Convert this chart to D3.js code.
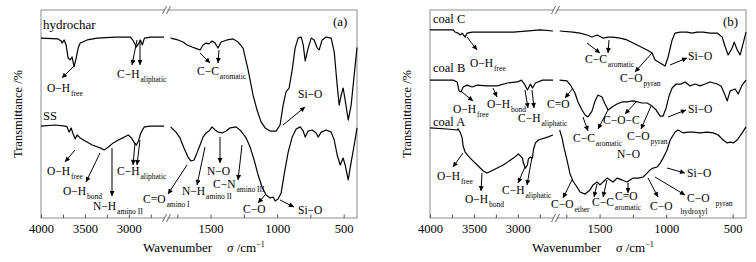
<!DOCTYPE html>
<html>
<head>
<meta charset="utf-8">
<script src="https://cdn.jsdelivr.net/npm/d3@7"></script>
<style>
body{margin:0;background:#fff;}
.spectrum{fill:none;stroke:#000;stroke-width:1.2;stroke-linejoin:round;}
.frame{fill:none;stroke:#8c8c8c;stroke-width:1;}
.arrow{stroke:#000;stroke-width:1;}
</style>
</head>
<body>
<script>
(function(){

	//spectra as [wavenumber, transmittance] pairs (arbitrary offset units)
	var hydrochar = [[4000,86.5],[3806,86.1],[3771,85.1],[3760,84.1],[3737,85.6],[3714,83.2],[3691,76.9],[3669,76.0],[3646,77.4],[3623,72.6],[3600,76.9],[3577,81.7],[3554,84.1],[3474,85.6],[3360,86.5],[3154,87.0],[2983,87.0],[2948,85.1],[2914,82.2],[2891,83.7],[2868,85.6],[2846,83.2],[2823,86.5],[2754,87.0],[2600,87.0],
		[1800,86.5],[1745,85.6],[1707,84.6],[1677,83.2],[1639,82.2],[1602,81.3],[1579,80.8],[1557,83.2],[1534,84.1],[1512,83.7],[1489,85.1],[1466,84.1],[1444,81.7],[1421,84.6],[1376,85.6],[1331,86.1],[1293,84.6],[1256,81.7],[1218,71.2],[1181,59.1],[1151,51.9],[1121,46.2],[1090,43.3],[1053,41.8],[1008,41.8],[978,44.7],[955,54.3],[933,60.6],[910,62.5],[887,71.2],[865,81.7],[842,86.5],[819,87.0],[804,83.2],[789,75.5],[767,81.7],[744,86.5],[722,85.6],[699,81.7],[684,80.8],[662,85.6],[632,87.0],[594,86.5],[571,79.8],[549,63.9],[534,54.3],[519,59.1],[504,62.5],[489,56.7],[466,47.1],[444,54.3],[421,68.8],[400,82]];

	var sludge = [[4000,44.2],[3840,44.7],[3726,44.2],[3703,43.8],[3680,41.3],[3657,43.3],[3634,40.4],[3611,38.0],[3589,39.9],[3554,38.5],[3497,37.0],[3417,35.1],[3326,33.7],[3280,32.7],[3234,34.1],[3177,36.1],[3120,37.5],[3051,38.9],[3006,39.9],[2971,38.5],[2937,36.1],[2914,35.1],[2891,37.0],[2868,40.4],[2846,42.3],[2823,43.8],[2754,44.2],[2600,44.2],
		[1800,43.8],[1760,41.3],[1730,38.5],[1700,33.7],[1670,29.3],[1647,27.4],[1624,27.9],[1602,31.3],[1579,35.1],[1557,38.9],[1534,40.9],[1512,41.8],[1489,43.8],[1466,42.3],[1444,41.3],[1414,40.9],[1384,41.8],[1354,43.3],[1309,43.8],[1271,41.8],[1233,38.5],[1203,34.1],[1173,27.9],[1143,20.7],[1113,14.9],[1083,11.1],[1053,9.6],[1030,10.1],[1015,8.2],[993,9.1],[970,12.0],[948,20.7],[917,31.7],[887,38.9],[857,42.8],[827,43.8],[804,41.8],[789,38.9],[767,41.8],[737,42.3],[707,40.9],[692,38.9],[669,41.3],[632,42.3],[594,41.3],[571,37.5],[549,30.3],[526,25.5],[504,28.8],[489,25.5],[466,18.3],[444,26.9],[421,35.1],[400,43.3]];

	var coalC = [[4000,90.4],[3737,90.4],[3714,89.4],[3680,88.9],[3657,88.0],[3634,88.9],[3600,87.0],[3577,88.9],[3520,89.4],[3429,89.4],[3051,89.4],[2743,90.4],[2600,89.9],
		[1800,89.9],[1700,89.4],[1647,88.9],[1594,88.0],[1557,87.0],[1519,88.0],[1474,86.5],[1436,87.0],[1399,87.0],[1346,86.5],[1294,85.6],[1218,83.2],[1143,80.8],[1106,79.3],[1083,76.0],[1045,74.5],[1008,73.1],[985,77.4],[955,85.6],[933,88.9],[895,89.4],[843,89.4],[805,88.9],[767,89.4],[722,89.4],[669,88.9],[617,88.9],[579,87.0],[556,82.2],[534,78.4],[504,81.7],[489,84.6],[466,80.8],[444,78.4],[421,84.1],[400,89.4]];

	var coalB = [[4000,66.3],[3737,66.3],[3691,65.4],[3669,61.1],[3646,60.6],[3623,63.0],[3577,63.9],[3520,63.0],[3463,63.9],[3349,63.5],[3234,63.5],[3120,64.9],[3006,65.4],[2960,66.3],[2926,64.4],[2891,61.5],[2857,64.4],[2834,62.5],[2800,64.9],[2720,66.3],[2600,66.3],
		[1800,66.3],[1745,65.9],[1715,63.5],[1685,60.1],[1662,55.8],[1632,51.9],[1609,49.5],[1587,48.6],[1557,51.4],[1534,56.3],[1512,59.1],[1482,58.2],[1459,54.8],[1436,51.9],[1406,53.4],[1369,54.8],[1331,55.8],[1294,55.8],[1248,56.3],[1181,55.3],[1143,55.3],[1106,53.8],[1075,51.9],[1045,49.0],[1023,49.0],[1000,52.9],[978,58.7],[955,62.5],[925,64.4],[887,64.4],[857,65.4],[820,63.5],[782,64.4],[745,63.5],[707,64.4],[669,65.4],[617,64.4],[587,63.5],[564,60.1],[541,56.3],[519,61.1],[481,62.0],[459,59.6],[429,63.9],[400,66.3]];

	var coalA = [[4000,43.3],[3806,42.8],[3691,42.3],[3680,42.8],[3657,41.3],[3634,38.5],[3623,34.6],[3600,31.7],[3543,28.8],[3463,25.5],[3394,22.6],[3349,21.6],[3280,23.1],[3166,25.5],[3051,28.8],[2994,30.8],[2948,28.8],[2937,26.4],[2914,24.0],[2891,25.5],[2880,28.4],[2857,29.3],[2834,28.8],[2823,32.7],[2800,36.1],[2766,37.5],[2663,38.9],[2600,39.9],
		[1800,42.3],[1782,38.5],[1767,33.7],[1745,27.9],[1722,21.2],[1700,17.8],[1670,14.9],[1647,12.5],[1609,11.5],[1572,13.5],[1549,15.9],[1519,17.3],[1497,15.9],[1474,17.3],[1444,19.2],[1421,18.3],[1399,17.3],[1369,19.2],[1331,18.3],[1294,17.3],[1271,18.3],[1248,19.2],[1211,19.2],[1173,19.7],[1143,21.6],[1121,23.1],[1098,24.0],[1068,24.5],[1045,26.4],[1023,28.8],[993,32.7],[970,37.5],[933,41.3],[910,42.3],[872,40.9],[835,41.3],[797,41.3],[745,40.9],[692,41.3],[647,40.9],[609,39.9],[572,37.5],[541,36.1],[519,36.5],[496,36.1],[466,37.5],[429,40.9],[400,43.8]];

	//broken wavenumber axis
	var highRange = [4000, 2600],
		lowRange = [1850, 400];
	var ticksHigh = [4000, 3750, 3500, 3250, 3000, 2750],
		ticksLow = [1750, 1500, 1250, 1000, 750, 500],
		tickLabels = [4000, 3500, 3000, 1500, 1000, 500];

	//labels and arrows, svg pixel positions
	var labelsA = [
		{t:"hydrochar", x:43, y:29, size:13},
		{t:"SS", x:43, y:120, size:12.5},
		{t:"(a)", x:333, y:26, size:13},
		{t:"O−H", s:"free", x:47, y:92},
		{t:"C−H", s:"aliphatic", x:117, y:78},
		{t:"C−C", s:"aromatic", x:197, y:75},
		{t:"Si−O", x:298, y:98},
		{t:"O−H", s:"free", x:47, y:175},
		{t:"O−H", s:"bond", x:63, y:195},
		{t:"N−H", s:"amino II", x:93, y:210},
		{t:"C−H", s:"aliphatic", x:117, y:175},
		{t:"C=O", s:"amino I", x:143, y:203},
		{t:"N−H", s:"amino II", x:182, y:195},
		{t:"N−O", x:207, y:175},
		{t:"C−N", s:"amino III", x:213, y:188},
		{t:"C−O", x:243, y:213},
		{t:"Si−O", x:298, y:214}
	];
	var arrowsA = [[75,65,62,78],[137,40,132,65],[140,40,140,65],[200,53,210,63],[219,50,218,63],[283,125,305,107],
		[75,150,65,162],[100,153,86,182],[112,148,112,196],[135,143,133,165],[140,140,137,165],[187,165,168,194],
		[205,147,197,185],[220,137,220,163],[242,145,238,180],[265,195,258,203],[280,200,294,207]];

	var labelsB = [
		{t:"coal C", x:433, y:23, size:12.5},
		{t:"coal B", x:433, y:72, size:12.5},
		{t:"coal A", x:433, y:126, size:12.5},
		{t:"(b)", x:723, y:26, size:13},
		{t:"O−H", s:"free", x:470, y:67},
		{t:"C−C", s:"aromatic", x:585, y:63},
		{t:"C−O", s:"pyran", x:620, y:82},
		{t:"Si−O", x:688, y:60},
		{t:"O−H", s:"free", x:453, y:113},
		{t:"O−H", s:"bond", x:487, y:108},
		{t:"C−H", s:"aliphatic", x:518, y:122},
		{t:"C=O", x:547, y:108},
		{t:"C−C", s:"aromatic", x:573, y:142},
		{t:"C−O−C", x:603, y:124},
		{t:"C−O", s:"pyran", x:627, y:140},
		{t:"N−O", x:617, y:158},
		{t:"Si−O", x:688, y:113},
		{t:"O−H", s:"free", x:437, y:180},
		{t:"O−H", s:"bond", x:465, y:203},
		{t:"C−H", s:"aliphatic", x:502, y:194},
		{t:"C−O", s:"ether", x:551, y:208},
		{t:"C−C", s:"aromatic", x:592, y:206},
		{t:"C=O", x:615, y:200},
		{t:"C−O", s:"hydroxyl", x:650, y:210, dx:8},
		{t:"Si−O", x:687, y:177},
		{t:"C−O", s:"pyran", x:687, y:202, dx:6}
	];
	var arrowsB = [[467,37,477,50],[587,43,600,53],[609,40,608,53],[652,53,635,72],[670,65,687,58],
		[462,92,473,101],[493,88,497,97],[525,90,528,108],[532,90,534,108],[573,88,565,98],
		[583,117,588,131],[608,110,598,129],[636,102,625,114],[651,106,641,129],[668,117,686,110],
		[463,153,453,167],[482,173,481,191],[525,167,518,183],[532,157,527,185],[572,180,563,198],
		[597,184,594,197],[607,180,603,197],[628,183,628,193],[648,178,658,197],[667,168,685,173],[655,177,685,195]];

	var serif = "Liberation Serif, Times New Roman, DejaVu Serif, serif";

	var width = 756, height = 262,
		plotW = 316, plotH = 208, plotTop = 10,
		breakX = 123;

	var svg = d3.select("body").append("svg")
		.attr("width", width)
		.attr("height", height)
		.attr("font-family", serif);

	//arrowhead marker
	svg.append("defs").append("marker")
		.attr("id", "head")
		.attr("viewBox", "0 0 10 10")
		.attr("refX", 10).attr("refY", 5)
		.attr("markerWidth", 6).attr("markerHeight", 5)
		.attr("markerUnits", "userSpaceOnUse")
		.attr("orient", "auto")
		.append("path").attr("d", "M0,0L10,5L0,10Z").attr("fill", "#000");

	var xHigh = d3.scaleLinear().domain(highRange).range([0, breakX]);
	var xLow = d3.scaleLinear().domain(lowRange).range([breakX, plotW]);
	var y = d3.scaleLinear().domain([0, 100]).range([plotH, 0]);

	function xPos(w){
		return w >= highRange[1] ? xHigh(w) : xLow(w);
	}

	var line = d3.line()
		.x(function(d){ return xPos(d[0]); })
		.y(function(d){ return y(d[1]); });

	drawPanel(41, [hydrochar, sludge], labelsA, arrowsA);
	drawPanel(430, [coalC, coalB, coalA], labelsB, arrowsB);

	function drawPanel(left, spectra, labels, arrows){
		var g = svg.append("g").attr("transform", "translate(" + left + "," + plotTop + ")");

		g.append("rect").attr("class", "frame")
			.attr("x", 0).attr("y", 0)
			.attr("width", plotW).attr("height", plotH);

		//each spectrum is cut in two at the axis break
		spectra.forEach(function(s){
			var hi = s.filter(function(d){ return d[0] >= highRange[1]; }),
				lo = s.filter(function(d){ return d[0] <= lowRange[0]; });
			[hi, lo].forEach(function(seg){
				g.append("path").datum(seg).attr("class", "spectrum").attr("d", line);
			});
		});

		//bottom axes, ticks pointing in
		[[xHigh, ticksHigh], [xLow, ticksLow]].forEach(function(a){
			var ax = g.append("g")
				.attr("transform", "translate(0," + plotH + ")")
				.call(d3.axisBottom(a[0])
					.tickValues(a[1])
					.tickSizeInner(-3.5)
					.tickSizeOuter(0)
					.tickPadding(6)
					.tickFormat(function(d){ return tickLabels.indexOf(d) > -1 ? d : ""; }));
			ax.attr("font-family", serif).attr("font-size", 12.5);
			ax.select(".domain").remove();
			ax.selectAll("line").attr("stroke", "#555");
			ax.selectAll("text").attr("fill", "#000");
		});

		//break marks on top and bottom edge
		[0, plotH].forEach(function(yy){
			g.append("rect").attr("x", breakX + 0.5).attr("y", yy - 1.5)
				.attr("width", 3).attr("height", 3).attr("fill", "#fff");
			[0, 4].forEach(function(k){
				g.append("line")
					.attr("x1", breakX - 1.5 + k).attr("y1", yy + 4)
					.attr("x2", breakX + 2.5 + k).attr("y2", yy - 4)
					.attr("stroke", "#666");
			});
		});

		//axis titles
		var xt = svg.append("text")
			.attr("x", left + 102).attr("y", 252)
			.attr("font-size", 13);
		xt.append("tspan").text("Wavenumber");
		xt.append("tspan").attr("dx", 15).attr("font-style", "italic").text("σ");
		xt.append("tspan").text(" /cm");
		xt.append("tspan").attr("dy", -5).attr("font-size", 8).text("−1");

		svg.append("text")
			.attr("transform", "translate(" + (left - 19) + "," + (plotTop + plotH / 2) + ") rotate(-90)")
			.attr("text-anchor", "middle")
			.attr("font-size", 12.5)
			.text("Transmittance /%");

		//annotations
		arrows.forEach(function(a){
			svg.append("line").attr("class", "arrow")
				.attr("x1", a[0]).attr("y1", a[1])
				.attr("x2", a[2]).attr("y2", a[3])
				.attr("marker-end", "url(#head)");
		});
		labels.forEach(function(d){
			var t = svg.append("text")
				.attr("x", d.x).attr("y", d.y)
				.attr("fill", "#000")
				.attr("font-size", d.size || 11.5);
			t.append("tspan").text(d.t);
			if (d.s){
				t.append("tspan")
					.attr("dx", d.dx || 1).attr("dy", 3.5)
					.attr("font-size", 7.5)
					.text(d.s);
			}
		});
	}

})();
</script>
</body>
</html>
